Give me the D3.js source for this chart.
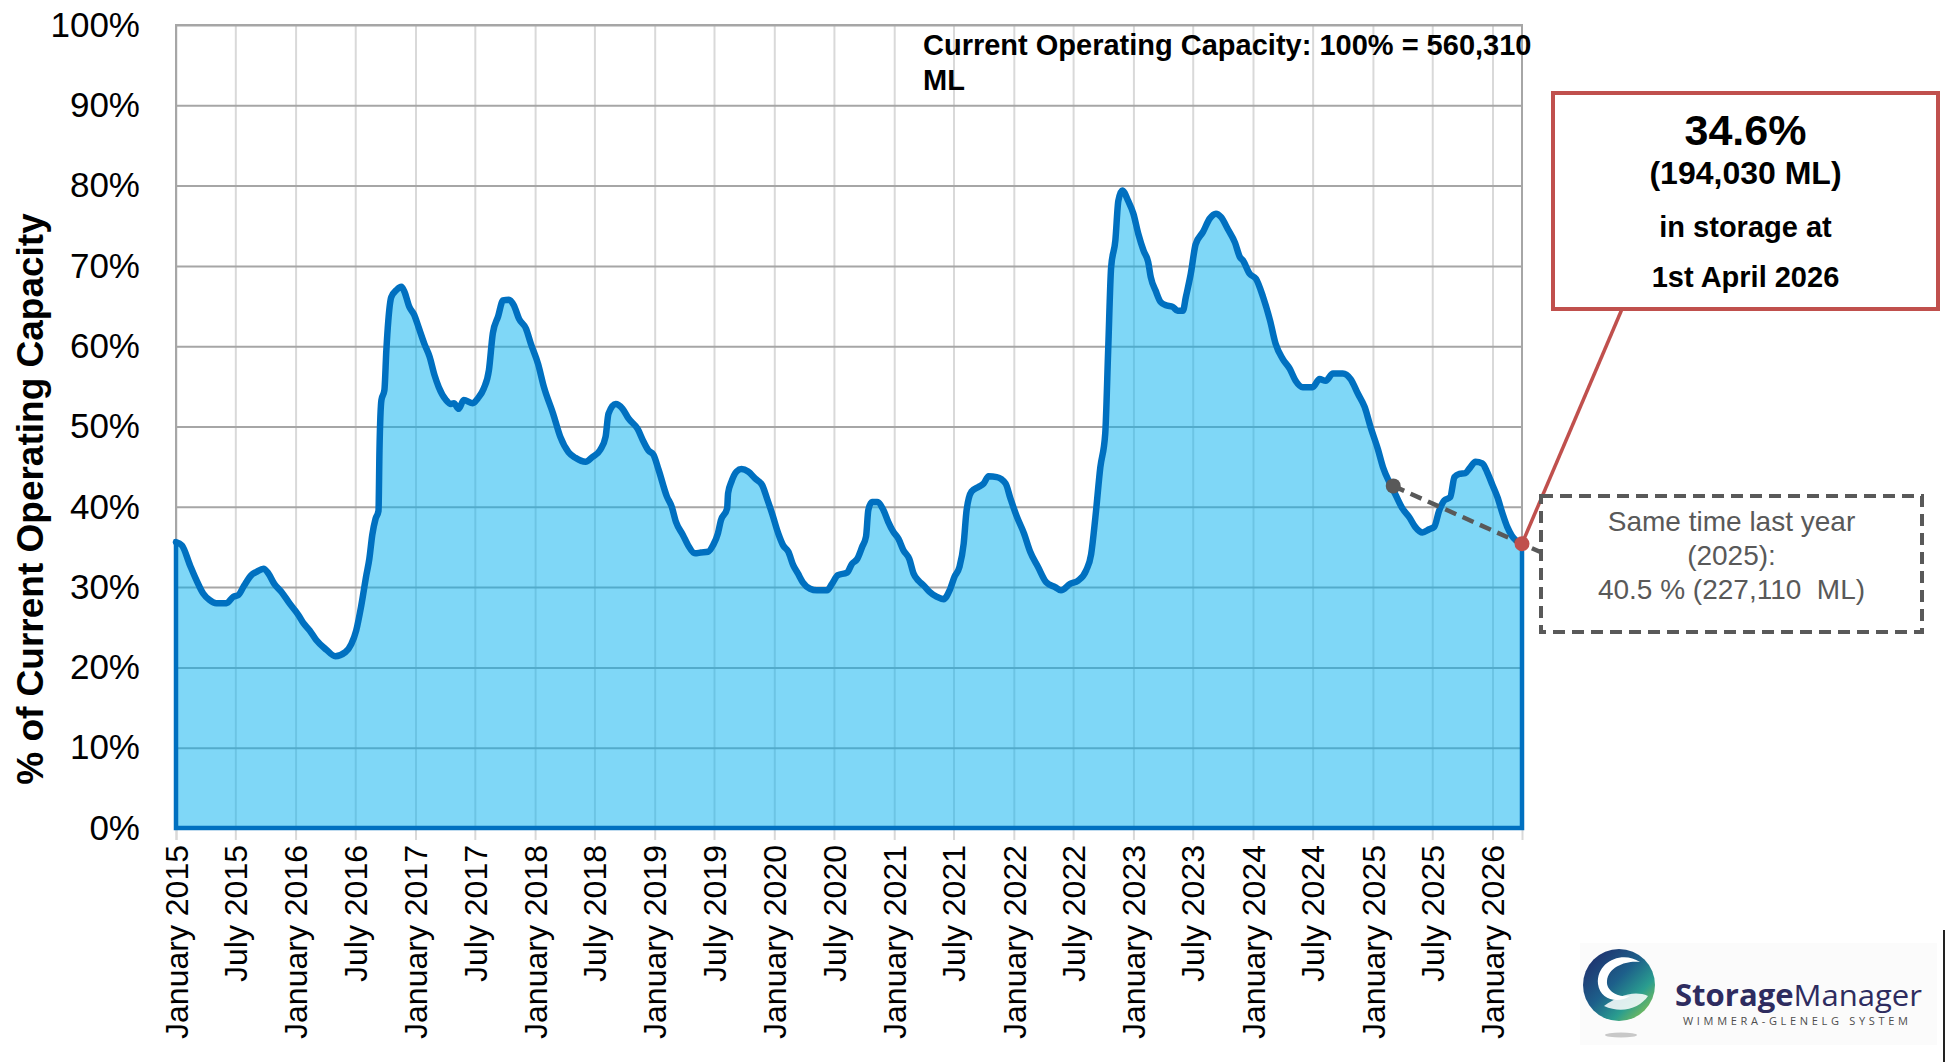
<!DOCTYPE html>
<html>
<head>
<meta charset="utf-8">
<script src="https://cdn.jsdelivr.net/npm/d3@7"></script>
<style>
  body { margin: 0; background: #fff; }
  svg text { font-family: "Liberation Sans", Arial, sans-serif; }
</style>
</head>
<body>
<div id="chart"></div>
<script>
// storage level (date, % of current operating capacity)
const dates = [
  "2015-01-01","2015-01-19","2015-02-13","2015-03-04","2015-03-25","2015-04-13","2015-05-04","2015-06-04","2015-06-25","2015-07-10",
  "2015-07-28","2015-08-19","2015-09-04","2015-09-25","2015-10-10","2015-10-28","2015-11-19","2015-12-13","2016-01-10","2016-01-25",
  "2016-02-13","2016-03-04","2016-04-04","2016-05-01","2016-06-01","2016-06-19","2016-07-04","2016-07-19","2016-08-04","2016-08-13",
  "2016-08-22","2016-09-01","2016-09-10","2016-09-13","2016-09-19","2016-09-28","2016-10-04","2016-10-10","2016-10-19","2016-11-04",
  "2016-11-19","2016-11-28","2016-12-13","2016-12-28","2017-01-10","2017-01-28","2017-02-13","2017-02-28","2017-03-13","2017-04-04",
  "2017-04-19","2017-04-28","2017-05-13","2017-05-28","2017-06-25","2017-07-10","2017-07-28","2017-08-13","2017-08-25","2017-09-10",
  "2017-09-25","2017-10-13","2017-10-28","2017-11-13","2017-12-04","2017-12-19","2018-01-10","2018-01-28","2018-02-25","2018-03-19",
  "2018-04-13","2018-05-04","2018-06-04","2018-06-25","2018-07-19","2018-08-04","2018-08-13","2018-09-04","2018-09-25","2018-10-13",
  "2018-11-10","2018-11-28","2018-12-13","2018-12-28","2019-01-13","2019-02-07","2019-02-22","2019-03-07","2019-03-28","2019-04-13",
  "2019-05-04","2019-05-22","2019-06-13","2019-06-28","2019-07-13","2019-07-22","2019-08-10","2019-08-13","2019-08-23","2019-09-08",
  "2019-09-23","2019-10-13","2019-11-04","2019-11-25","2019-12-10","2019-12-25","2020-01-13","2020-01-28","2020-02-13","2020-02-28",
  "2020-03-13","2020-03-28","2020-04-19","2020-05-10","2020-06-10","2020-06-25","2020-07-13","2020-08-10","2020-08-25","2020-09-10",
  "2020-09-25","2020-10-07","2020-10-14","2020-10-25","2020-11-10","2020-11-29","2020-12-14","2020-12-29","2021-01-14","2021-01-29",
  "2021-02-16","2021-03-01","2021-03-16","2021-04-01","2021-04-19","2021-05-10","2021-06-01","2021-06-19","2021-07-04","2021-07-19",
  "2021-08-01","2021-08-10","2021-08-25","2021-09-16","2021-10-01","2021-10-16","2021-11-10","2021-12-07","2021-12-22","2022-01-10",
  "2022-02-01","2022-02-20","2022-03-16","2022-04-10","2022-05-07","2022-05-25","2022-06-22","2022-07-16","2022-08-10","2022-08-25",
  "2022-09-07","2022-09-22","2022-10-07","2022-10-16","2022-10-25","2022-11-07","2022-11-16","2022-11-28","2022-12-16","2023-01-01",
  "2023-01-16","2023-02-01","2023-02-15","2023-02-23","2023-03-10","2023-03-25","2023-04-10","2023-05-01","2023-05-16","2023-06-01",
  "2023-06-10","2023-06-25","2023-07-10","2023-08-01","2023-08-22","2023-09-10","2023-09-25","2023-10-16","2023-11-07","2023-11-22",
  "2023-12-01","2023-12-22","2024-01-10","2024-02-01","2024-02-22","2024-03-10","2024-04-01","2024-04-22","2024-05-10","2024-06-01",
  "2024-07-01","2024-07-22","2024-08-10","2024-09-01","2024-10-01","2024-10-25","2024-11-16","2024-12-07","2024-12-25","2025-01-16",
  "2025-02-01","2025-02-22","2025-03-10","2025-04-01","2025-04-22","2025-05-10","2025-06-01","2025-06-22","2025-07-07","2025-07-22",
  "2025-08-07","2025-08-25","2025-09-07","2025-09-22","2025-10-10","2025-10-25","2025-11-10","2025-12-01","2025-12-16","2026-01-01",
  "2026-01-16","2026-02-01","2026-02-15","2026-03-01","2026-04-01"
];
const storagePct = [
  35.6,35.2,32.7,30.9,29.2,28.4,28.0,28.0,28.8,29.0,
  30.2,31.5,31.9,32.3,31.7,30.4,29.4,28.0,26.5,25.5,
  24.6,23.4,22.2,21.4,21.9,22.9,24.6,27.6,31.5,33.5,
  36.5,38.5,39.5,47.0,53.3,54.5,59.5,63.2,66.1,67.0,
  67.4,66.8,64.9,63.9,62.4,60.3,58.7,56.4,54.9,53.3,
  52.8,52.9,52.2,53.3,52.9,53.5,54.7,57.0,61.6,63.7,
  65.7,65.8,65.1,63.4,62.2,60.3,57.8,54.9,51.6,48.7,
  46.8,46.1,45.6,46.2,47.1,48.7,51.6,52.8,52.2,51.0,
  49.7,48.1,47.0,46.5,44.6,41.3,40.0,38.1,36.5,35.2,
  34.2,34.3,34.4,35.2,36.7,38.3,39.8,41.7,43.1,44.4,
  44.7,44.4,43.5,42.7,41.0,39.2,36.7,35.2,34.4,32.7,
  31.7,30.6,29.8,29.6,29.6,30.4,31.5,31.8,32.9,33.5,
  35.0,36.3,39.6,40.6,40.6,39.6,38.1,36.9,36.0,34.6,
  33.5,31.7,30.8,30.2,29.4,28.8,28.5,29.6,31.3,32.5,
  35.4,39.6,41.9,42.5,42.9,43.8,43.7,42.9,41.0,38.8,
  36.7,34.4,32.5,30.6,30.0,29.6,30.4,30.8,32.1,34.1,
  38.7,44.9,49.1,59.5,69.8,73.2,78.1,79.4,78.1,76.5,
  74.0,71.9,70.5,68.6,66.9,65.5,65.1,64.9,64.4,64.4,
  66.1,69.0,72.7,74.2,75.9,76.5,76.1,74.6,72.9,71.1,
  70.7,69.0,68.4,66.1,63.2,60.3,58.4,57.2,55.7,54.9,
  54.9,55.9,55.7,56.6,56.6,55.9,54.1,52.4,49.9,47.2,
  44.9,42.9,41.6,39.8,38.7,37.5,36.8,37.2,37.5,39.5,
  40.8,41.2,43.7,44.1,44.2,44.9,45.6,45.4,44.3,42.7,
  41.2,39.1,37.5,36.4,35.4
];

// axis ticks
const tickLabels = [
  "January 2015","July 2015","January 2016","July 2016","January 2017","July 2017",
  "January 2018","July 2018","January 2019","July 2019","January 2020","July 2020",
  "January 2021","July 2021","January 2022","July 2022","January 2023","July 2023",
  "January 2024","July 2024","January 2025","July 2025","January 2026"
];
const yTicks = [0, 10, 20, 30, 40, 50, 60, 70, 80, 90, 100];
const startDate = "2015-01-01", endDate = "2026-04-01";

// annotations
const capacityNote = ["Current Operating Capacity: 100% = 560,310", "ML"];
const currentLines = ["34.6%", "(194,030 ML)", "in storage at", "1st April 2026"];
const lastYearLines = ["Same time last year", "(2025):", "40.5 % (227,110  ML)"];
const lastYearPoint = { date: "2025-03-04", value: 42.6 };

const parseDate = d3.timeParse("%Y-%m-%d");
const parseTick = d3.timeParse("%B %Y");
const data = dates.map((d, i) => ({ date: parseDate(d), value: storagePct[i] }));
const tickDates = tickLabels.map(parseTick);

// svg container
const svgWidth = 1947, svgHeight = 1062;
const margin = { top: 25, right: 425, bottom: 234, left: 176 };
const chartWidth = svgWidth - margin.left - margin.right;
const chartHeight = svgHeight - margin.top - margin.bottom;

const svg = d3.select("#chart").append("svg")
  .attr("width", svgWidth)
  .attr("height", svgHeight)
  .style("display", "block");

svg.append("rect").attr("width", svgWidth).attr("height", svgHeight).attr("fill", "#fff");

const chartGroup = svg.append("g")
  .attr("transform", `translate(${margin.left}, ${margin.top})`);

// scales
const xScale = d3.scaleTime()
  .domain([parseDate(startDate), parseDate(endDate)])
  .range([0, chartWidth]);
const yScale = d3.scaleLinear()
  .domain([0, 100])
  .range([chartHeight, 0]);

// vertical grid
chartGroup.append("g")
  .attr("transform", `translate(0, ${chartHeight})`)
  .call(d3.axisBottom(xScale).tickValues(tickDates).tickSize(-chartHeight).tickFormat(""))
  .call(g => g.select(".domain").remove())
  .selectAll("line").attr("stroke", "#d9d9d9").attr("stroke-width", 2);

// horizontal grid
chartGroup.append("g")
  .call(d3.axisLeft(yScale).tickValues(yTicks).tickSize(-chartWidth).tickFormat(""))
  .call(g => g.select(".domain").remove())
  .selectAll("line").attr("stroke", "#a6a6a6").attr("stroke-width", 2);

// plot border
chartGroup.append("rect")
  .attr("width", chartWidth).attr("height", chartHeight)
  .attr("fill", "none").attr("stroke", "#a6a6a6").attr("stroke-width", 2);

// y labels
chartGroup.append("g")
  .call(d3.axisLeft(yScale).tickValues(yTicks).tickSize(0).tickPadding(36).tickFormat(d => d + "%"))
  .call(g => g.select(".domain").remove())
  .selectAll("text")
  .attr("font-size", 35)
  .attr("fill", "#000");

// x labels
const xAxis = chartGroup.append("g")
  .attr("transform", `translate(0, ${chartHeight})`)
  .call(d3.axisBottom(xScale).tickValues(tickDates).tickSize(12).tickFormat(d3.timeFormat("%B %Y")));
xAxis.select(".domain").attr("stroke", "#d9d9d9").attr("stroke-width", 2);
xAxis.selectAll("line").attr("stroke", "#d9d9d9").attr("stroke-width", 2);
xAxis.selectAll("text")
  .attr("transform", "rotate(-90)")
  .attr("x", -17).attr("y", 0).attr("dy", "0.35em")
  .attr("text-anchor", "end")
  .attr("font-size", 32)
  .attr("fill", "#000");

// area + line
const area = d3.area()
  .x(d => xScale(d.date))
  .y0(yScale(0))
  .y1(d => yScale(d.value))
  .curve(d3.curveMonotoneX);
const line = d3.line()
  .x(d => xScale(d.date))
  .y(d => yScale(d.value))
  .curve(d3.curveMonotoneX);

chartGroup.append("path")
  .datum(data)
  .attr("d", area)
  .attr("fill", "rgba(0, 176, 240, 0.5)")
  .attr("stroke", "#0070C0")
  .attr("stroke-width", 4.5);

chartGroup.append("path")
  .datum(data)
  .attr("d", line)
  .attr("fill", "none")
  .attr("stroke", "#0070C0")
  .attr("stroke-width", 6.5)
  .attr("stroke-linejoin", "round")
  .attr("stroke-linecap", "round");

// y axis title
svg.append("text")
  .attr("transform", "translate(43, 499) rotate(-90)")
  .attr("text-anchor", "middle")
  .attr("font-size", 37)
  .attr("font-weight", "bold")
  .text("% of Current Operating Capacity");

// capacity note
svg.append("g").selectAll("text")
  .data(capacityNote)
  .enter().append("text")
  .attr("x", 923)
  .attr("y", (d, i) => 55 + i * 35)
  .attr("font-size", 29)
  .attr("font-weight", "bold")
  .text(d => d);

// last year / current points
const last = data[data.length - 1];
const curX = margin.left + xScale(last.date), curY = margin.top + yScale(last.value);
const lyX = margin.left + xScale(parseDate(lastYearPoint.date)), lyY = margin.top + yScale(lastYearPoint.value);

// dashed comparison line, extended to the box edge
const boxL = { x: 1541, y: 496, w: 381, h: 136 };
const slope = (curY - lyY) / (curX - lyX);
svg.append("line")
  .attr("x1", lyX).attr("y1", lyY)
  .attr("x2", boxL.x).attr("y2", curY + slope * (boxL.x - curX))
  .attr("stroke", "#595959").attr("stroke-width", 4.5)
  .attr("stroke-dasharray", "12,7");

// red callout line
const boxC = { x: 1553, y: 93, w: 385, h: 216 };
svg.append("line")
  .attr("x1", curX).attr("y1", curY)
  .attr("x2", 1622).attr("y2", boxC.y + boxC.h)
  .attr("stroke", "#C0504D").attr("stroke-width", 3.5);

// last year box
svg.append("rect")
  .attr("x", boxL.x).attr("y", boxL.y).attr("width", boxL.w).attr("height", boxL.h)
  .attr("fill", "#fff").attr("stroke", "#595959").attr("stroke-width", 4)
  .attr("stroke-dasharray", "12,7");
svg.append("g").selectAll("text")
  .data(lastYearLines)
  .enter().append("text")
  .attr("x", boxL.x + boxL.w / 2)
  .attr("y", (d, i) => 531 + i * 34)
  .attr("text-anchor", "middle")
  .attr("font-size", 28)
  .attr("fill", "#595959")
  .style("white-space", "pre")
  .text(d => d);

// current box
svg.append("rect")
  .attr("x", boxC.x).attr("y", boxC.y).attr("width", boxC.w).attr("height", boxC.h)
  .attr("fill", "#fff").attr("stroke", "#C0504D").attr("stroke-width", 4);
const currentY = [145, 184, 237, 287];
const currentSize = [43, 32, 29, 29];
svg.append("g").selectAll("text")
  .data(currentLines)
  .enter().append("text")
  .attr("x", boxC.x + boxC.w / 2)
  .attr("y", (d, i) => currentY[i])
  .attr("text-anchor", "middle")
  .attr("font-size", (d, i) => currentSize[i])
  .attr("font-weight", "bold")
  .text(d => d);

// dots
svg.append("circle").attr("cx", lyX).attr("cy", lyY).attr("r", 7.5).attr("fill", "#595959");
svg.append("circle").attr("cx", curX).attr("cy", curY).attr("r", 7.5).attr("fill", "#C0504D");

// logo
const defs = svg.append("defs");
const grad = defs.append("linearGradient").attr("id", "logoGrad")
  .attr("x1", "0").attr("y1", "0").attr("x2", "1").attr("y2", "1");
grad.append("stop").attr("offset", "0%").attr("stop-color", "#1f2466");
grad.append("stop").attr("offset", "45%").attr("stop-color", "#1d5f8a");
grad.append("stop").attr("offset", "70%").attr("stop-color", "#2a9d8f");
grad.append("stop").attr("offset", "100%").attr("stop-color", "#a6ce39");

const logo = svg.append("g");
logo.append("rect").attr("x", 1580).attr("y", 943).attr("width", 357).attr("height", 102).attr("fill", "#fbfbfb");
logo.append("ellipse").attr("cx", 1621).attr("cy", 1035).attr("rx", 16).attr("ry", 2.5).attr("fill", "#c8c8c8");
logo.append("circle").attr("cx", 1619).attr("cy", 985).attr("r", 36).attr("fill", "url(#logoGrad)");
logo.append("path")
  .attr("d", "M1640,962 C1622,950 1596,962 1598,984 C1600,1000 1618,1004 1630,996 C1620,998 1606,992 1607,981 C1608,966 1628,960 1640,962 Z")
  .attr("fill", "#fff");
logo.append("path")
  .attr("d", "M1604,1006 C1618,996 1634,990 1648,996 C1640,1008 1622,1014 1604,1006 Z")
  .attr("fill", "#fff").attr("opacity", 0.85);
const logoText = logo.append("text")
  .attr("x", 1675).attr("y", 1006)
  .attr("textLength", 247).attr("lengthAdjust", "spacingAndGlyphs")
  .attr("font-size", 30)
  .style("font-family", "'Open Sans', sans-serif")
  .attr("fill", "#2e2c5f");
logoText.append("tspan").attr("font-weight", "bold").text("Storage");
logoText.append("tspan").text("Manager");
logo.append("text")
  .attr("x", 1683).attr("y", 1025)
  .attr("textLength", 225).attr("lengthAdjust", "spacing")
  .attr("font-size", 11)
  .style("font-family", "'Open Sans', sans-serif")
  .attr("fill", "#4d4d4d")
  .text("WIMMERA-GLENELG SYSTEM");
svg.append("line")
  .attr("x1", 1944).attr("y1", 930).attr("x2", 1944).attr("y2", svgHeight)
  .attr("stroke", "#222").attr("stroke-width", 2);
</script>
</body>
</html>
